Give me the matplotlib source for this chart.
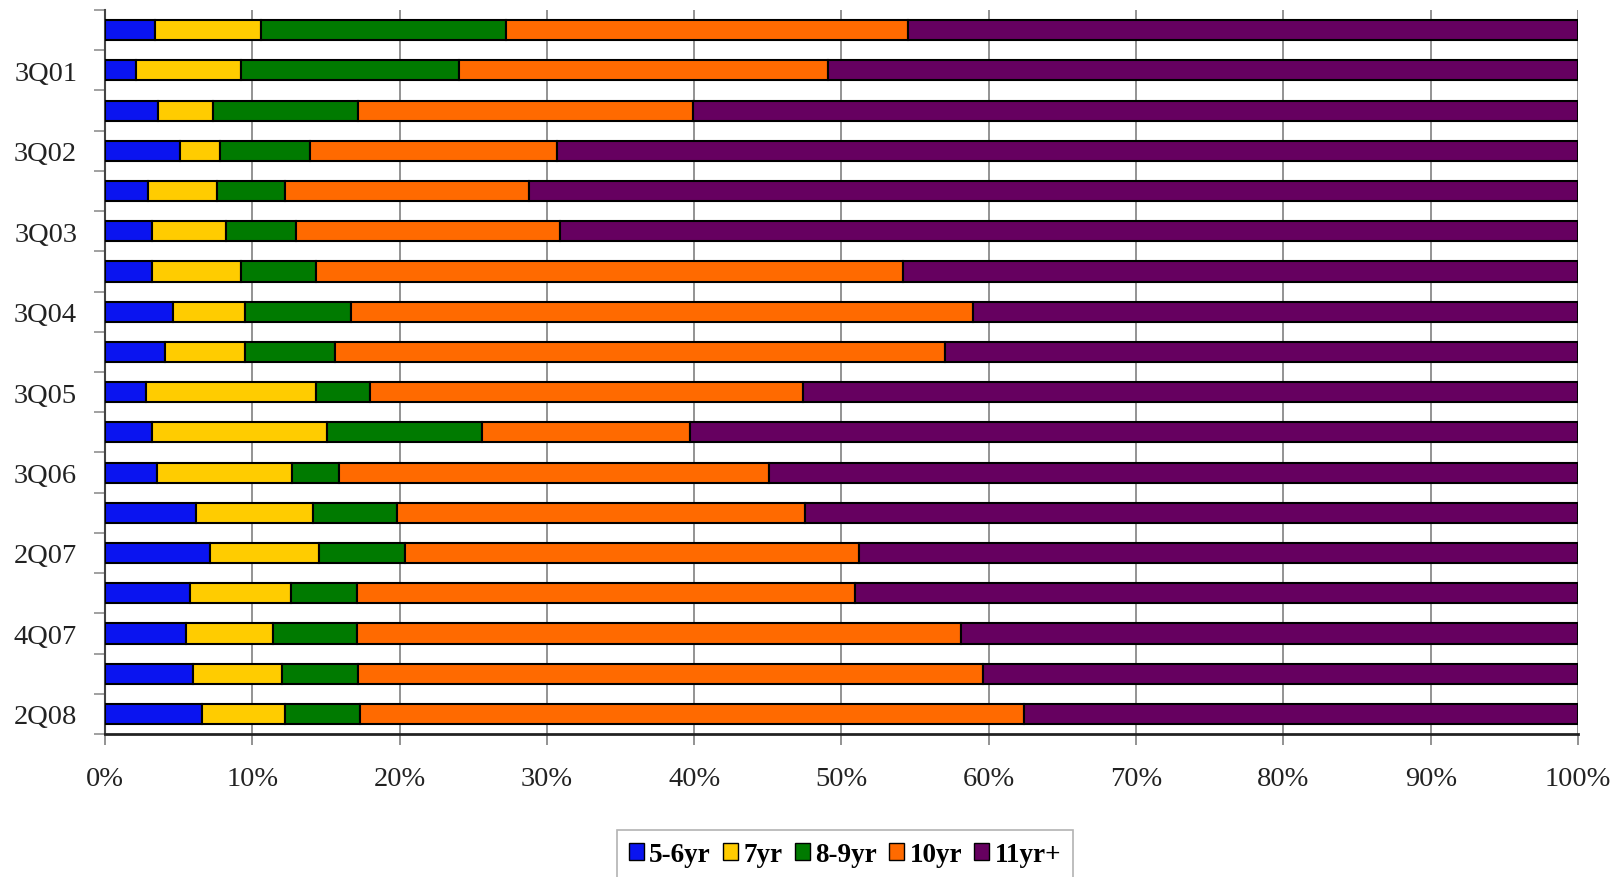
import matplotlib
matplotlib.use("Agg")
import matplotlib.pyplot as plt
import numpy as np

# Categories, top to bottom
categories = ["1Q01", "3Q01", "1Q02", "3Q02", "1Q03", "3Q03", "1Q04", "3Q04",
              "1Q05", "3Q05", "1Q06", "3Q06", "1Q07", "2Q07", "3Q07", "4Q07",
              "1Q08", "2Q08"]
shown_labels = [c if i % 2 == 1 else "" for i, c in enumerate(categories)]

series_names = ["5-6yr", "7yr", "8-9yr", "10yr", "11yr+"]
s_5_6yr = [3.4, 2.1, 3.6, 5.1, 2.9, 3.2, 3.2, 4.6, 4.1, 2.8, 3.2, 3.5, 6.2, 7.1, 5.8, 5.5, 6.0, 6.6]
s_7yr   = [7.2, 7.1, 3.7, 2.7, 4.7, 5.0, 6.0, 4.9, 5.4, 11.5, 11.9, 9.2, 7.9, 7.4, 6.8, 5.9, 6.0, 5.6]
s_8_9yr = [16.6, 14.8, 9.9, 6.1, 4.6, 4.8, 5.1, 7.2, 6.1, 3.7, 10.5, 3.2, 5.7, 5.9, 4.5, 5.7, 5.2, 5.1]
s_10yr  = [27.3, 25.1, 22.7, 16.8, 16.6, 17.9, 39.9, 42.2, 41.4, 29.4, 14.1, 29.2, 27.7, 30.8, 33.8, 41.0, 42.4, 45.1]
s_11yr  = [45.5, 50.9, 60.1, 69.3, 71.2, 69.1, 45.8, 41.1, 43.0, 52.6, 60.3, 54.9, 52.5, 48.8, 49.1, 41.9, 40.4, 37.6]
series = [s_5_6yr, s_7yr, s_8_9yr, s_10yr, s_11yr]
colors = ["#0A14F0", "#FFCC00", "#007A00", "#FF6A00", "#660060"]

fig = plt.figure(figsize=(16.18, 8.78), dpi=100)
ax = fig.add_axes([105/1618, 1 - 735/878, (1578 - 105)/1618, (735 - 11)/878])

y = np.arange(len(categories))
data = np.array(series, dtype=float)
totals = data.sum(axis=0)
pct = data / totals * 100.0
left = np.zeros(len(categories))
for name, vals, col in zip(series_names, pct, colors):
    ax.barh(y, vals, left=left, height=0.5, color=col, edgecolor="black",
            linewidth=1.5, label=name, zorder=3)
    left += vals

ax.set_xlim(0, 100)
ax.set_ylim(len(categories) - 0.5, -0.5)

serif = ["Liberation Serif", "DejaVu Serif"]
ax.set_xticks(np.arange(0, 101, 10))
ax.set_xticklabels([f"{v}%" for v in range(0, 101, 10)], fontsize=20.5, family=serif,
                   color="#222222")
ax.set_yticks(y)
ax.set_yticklabels(shown_labels, fontsize=20.5, family=serif, color="#222222")
ax.set_yticks(np.arange(-0.5, len(categories), 1), minor=True)
ax.tick_params(axis="y", which="major", length=0, pad=20)
ax.tick_params(axis="y", which="minor", length=8, color="#909090", width=1.2)
ax.tick_params(axis="x", length=8, color="#808080", width=1.2, pad=15)

ax.grid(axis="x", color="#808080", linewidth=1.2, zorder=0)
ax.set_axisbelow(True)
for side in ["top", "right"]:
    ax.spines[side].set_visible(False)
ax.spines["left"].set_color("#444444")
ax.spines["left"].set_linewidth(1.5)
ax.spines["bottom"].set_color("#222222")
ax.spines["bottom"].set_linewidth(2)

leg = fig.legend(loc="upper center", bbox_to_anchor=(845/1618, 1 - 831/878),
                 ncol=5, frameon=True, fancybox=False,
                 prop={"family": serif, "weight": "bold", "size": 19.5},
                 handlelength=0.55, handleheight=0.55, handletextpad=0.2,
                 columnspacing=0.45, borderpad=0.45, borderaxespad=0)
leg.get_frame().set_edgecolor("#A0A0A0")
leg.get_frame().set_linewidth(1.2)
for h in leg.legend_handles:
    h.set_linewidth(1.0)

fig.savefig("out.png", dpi=100)
